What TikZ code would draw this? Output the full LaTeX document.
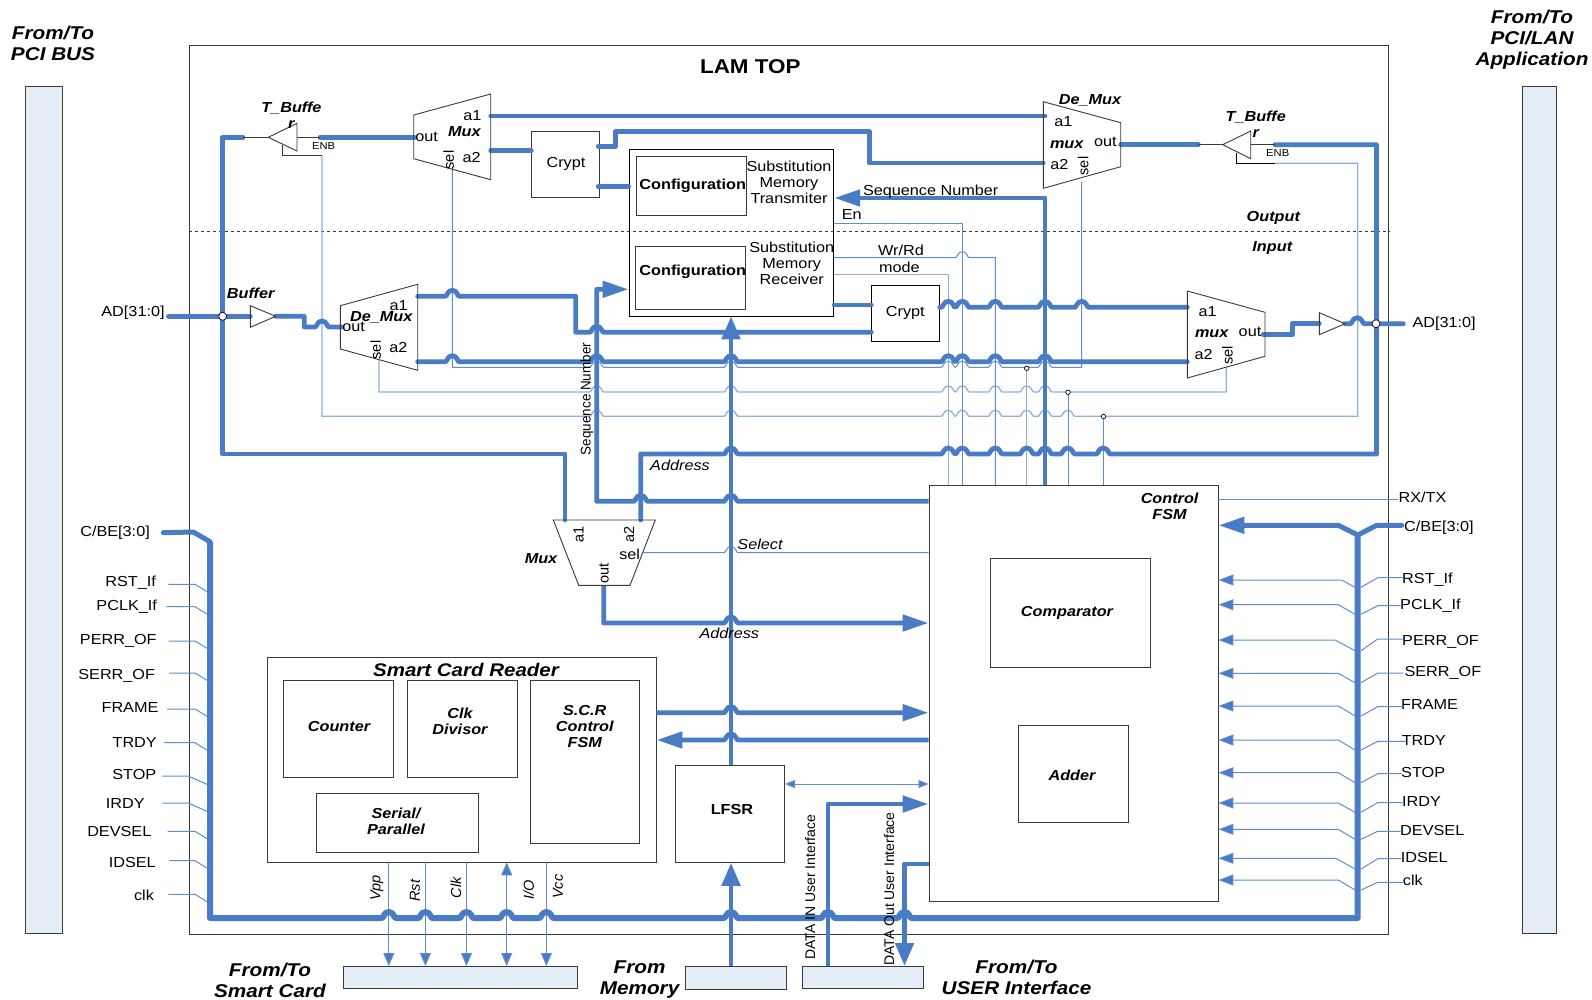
\documentclass[tikz,border=0pt]{standalone}
\usepackage{fontspec}
\usetikzlibrary{arrows.meta}
\setmainfont[FakeStretch=1.12]{Liberation Sans}
\newfontfamily\plainf{Liberation Sans}
\newfontfamily\narrowf[FakeStretch=0.96]{Liberation Sans}
\definecolor{wire}{HTML}{4A7CC6}
\definecolor{wthin}{HTML}{5F8DD0}
\definecolor{wlight}{HTML}{8FB0DF}
\definecolor{barfill}{HTML}{E5EDF7}
\definecolor{outl}{HTML}{3A3A3A}
\newcommand\hp[2]{-- (#1-7,#2) .. controls (#1-5,#2) and (#1-5,#2-6) .. (#1,#2-6) .. controls (#1+5,#2-6) and (#1+5,#2) .. (#1+7,#2)}
\newcommand\bx[7][]{\pgfmathsetmacro\bw{#5-#3}\pgfmathsetmacro\bh{#6-#4}\pgfmathsetmacro\cx{(#3+#5)/2}\pgfmathsetmacro\cy{(#4+#6)/2}%
  \node[boxx,#1,minimum width=\bw pt,minimum height=\bh pt] (#2) at (\cx,\cy) {#7};}
\newcommand\tx[5][]{\node[lbl,#1] (#2) at (#3,#4) {#5};}
\tikzset{
  boxx/.style={draw=outl,line width=.9pt,inner sep=0pt,align=center,font=\fontsize{14.5}{16}\selectfont},
  barr/.style={boxx,draw=outl,fill=barfill,line width=1pt},
  lbl/.style={inner sep=0pt,align=center,font=\fontsize{14.5}{16}\selectfont},
  bi/.style={lbl,font=\fontsize{14.5}{16}\selectfont\bfseries\itshape},
  big/.style={lbl,font=\fontsize{18.5}{21}\selectfont\bfseries\itshape},
  rot/.style={lbl,rotate=90,font=\fontsize{14.5}{16}\selectfont\plainf},
  roti/.style={lbl,rotate=90,font=\fontsize{14.5}{16}\selectfont\plainf\itshape},
  heavy/.style={draw=wire,line width=4.8pt,line join=round,line cap=round},
  bus/.style={draw=wire,line width=6pt,line join=round},
  thin wire/.style={draw=wthin,line width=1pt,line join=miter},
  light wire/.style={draw=wlight,line width=1.3pt,line join=miter},
  gate/.style={draw=outl,line width=.9pt},
  dot/.style={circle,draw=black,fill=white,inner sep=0pt,minimum size=4.5pt,line width=.7pt},
  bigdot/.style={circle,draw=black,fill=white,inner sep=0pt,minimum size=8pt,line width=.7pt},
  hd/.style={-{Triangle[length=26pt,width=16pt,fill=wire]}},
  hdr/.style={{Triangle[length=26pt,width=16pt,fill=wire]}-},
  hdup/.style={-{Triangle[length=23pt,width=18pt,fill=wire]}},
  td/.style={-{Triangle[length=13pt,width=11pt,fill=wire]}},
}
\begin{document}
\begin{tikzpicture}[x=1pt,y=-1pt]
\useasboundingbox (0,0) rectangle (1592,999);
\fill[white] (0,0) rectangle (1592,999);
% frames
\bx{lam}{189.3}{45.7}{1388.7}{934}{}
\bx[barr]{pcibar}{25.3}{86.3}{62}{933}{}
\bx[barr]{appbar}{1522.3}{86.7}{1556}{933}{}
\bx[barr]{scbar}{343.3}{966}{577.2}{988.3}{}
\bx[barr]{membar}{685.3}{966}{786.2}{989.3}{}
\bx[barr]{userbar}{802.2}{966}{923.6}{988.3}{}
\draw[dashed,line width=.9pt,draw=outl] (lam.west |- 0,231.7) coordinate (dashL) -- (lam.east |- 0,231.7) coordinate (dashR);
% boxes
\bx{crypta}{531.7}{131.7}{599.3}{197}{}
\bx[draw=black]{subm}{629}{149.7}{833.7}{316.3}{}
\bx{confa}{636.7}{156.3}{746.3}{215}{}
\bx{confb}{635.7}{246.3}{745}{309.7}{}
\bx[draw=black]{cryptb}{871.7}{285}{939.3}{341.3}{}
\bx{scr}{267}{657.3}{656}{862}{}
\bx{counter}{283.3}{680.3}{393}{777.7}{}
\bx{clkdiv}{407}{680.3}{517.8}{777.7}{}
\bx{scrfsm}{530}{680.3}{639.6}{843.7}{}
\bx{serial}{316.8}{793}{478}{852}{}
\bx{lfsr}{675}{765.5}{784.6}{862.3}{}
\bx{fsm}{929}{485}{1218}{901.7}{}
\bx{comp}{990}{558.4}{1150.3}{667}{}
\bx{adder}{1018.4}{725}{1128}{822.4}{}
% thin control wires
\draw[light wire] (322,155.7) -- (322,416.3) \hp{596.7}{416.3} \hp{731}{416.3} \hp{948.3}{416.3} \hp{962.3}{416.3} \hp{995.3}{416.3} \hp{1026.7}{416.3} \hp{1045}{416.3} \hp{1067.7}{416.3} -- (1357.7,416.3) -- (1357.7,163.3) -- (1275,163.3);
\draw[gate] (282.7,145) -- (282.7,155.7) -- (322,155.7);
\draw[gate,draw=black] (1275,163.3) -- (1236.7,163.3) -- (1236.7,152.7);
\draw[thin wire] (452.3,168) -- (452.3,367.3) \hp{596.7}{367.3} \hp{731}{367.3} \hp{948.3}{367.3} \hp{962.3}{367.3} \hp{995.3}{367.3} \hp{1045}{367.3} -- (1081.7,367.3) -- (1081.7,182);
\draw[light wire] (379,360) -- (379,392) \hp{596.7}{392} \hp{731}{392} \hp{948.3}{392} \hp{962.3}{392} \hp{995.3}{392} \hp{1026.7}{392} \hp{1045}{392} -- (1226.3,392) -- (1226.3,367);
\node[dot] (dota) at (1026.7,368.3) {};
\node[dot] (dotb) at (1068,392.3) {};
\node[dot] (dotc) at (1103.5,416.5) {};
\draw[light wire] (dota) -- (dota |- fsm.north);
\draw[thin wire] (dotb) -- (dotb |- fsm.north);
\draw[thin wire] (dotc) -- (dotc |- fsm.north);
\draw[thin wire] (subm.east |- 0,223.3) -- (962.3,223.3) -- (962.3,485);
\draw[thin wire] (subm.east |- 0,257.7) \hp{962.3}{257.7} -- (995.3,257.7) -- (995.3,485);
\draw[light wire] (subm.east |- 0,274.7) -- (948.3,274.7) -- (948.3,485);
\draw[thin wire] (fsm.east |- 0,499) -- (1398,499);
\draw[thin wire] (643.3,552.7) \hp{731}{552.7} -- (fsm.west |- 0,552.7);
\draw[thin wire,{Triangle[length=10pt,width=8pt,fill=wire]}-{Triangle[length=10pt,width=8pt,fill=wire]}] (lfsr.east |- 0,784) -- (fsm.west |- 0,784);
% left signals
\foreach \nm/\yy/\st/\kn/\lx/\ly/\tt in {
 a/584.3/168.3/195/130.7/583/RST\_If, b/606.7/166.3/195/126.7/607/PCLK\_If, c/641/168.7/195/118.3/640.5/PERR\_OF,
 d/673/169/195/116.7/675.5/SERR\_OF, e/709/167/195/130/707/FRAME, f/742.7/164/195/134.7/742/TRDY,
 g/776/162.3/188.3/134.3/774/STOP, h/803/162.3/188.3/125.3/803/IRDY, i/831.3/167.7/195/119.3/831/DEVSEL,
 j/860.7/169.7/195/132.3/862.7/IDSEL, k/894.3/168.3/195/144/895/clk}{
  \tx{sl\nm}{\lx}{\ly}{\tt}
  \draw[thin wire] (\st,\yy) -- (\kn,\yy) -- (213,\yy+11);
}
% right signals
\foreach \nm/\ly/\kx/\by/\ry/\rx/\tx/\ty/\tt in {
 a/580/1341.7/587.3/577.7/1402.7/1402/580/RST\_If, b/604.7/1338.3/614.3/605.7/1400.7/1400/606/PCLK\_If,
 c/640/1335/650.7/639/1402.7/1402/642.3/PERR\_OF, d/673.3/1338.3/682.7/673/1403.3/1404.3/673.3/SERR\_OF,
 e/706/1338.3/716/706.7/1403.3/1401/704.3/FRAME, f/740/1338.3/750/741.3/1406.7/1401.6/740/TRDY,
 g/772.7/1338.3/782.7/773.7/1401.7/1401/772/STOP, h/803/1338.3/812.3/802.7/1402.7/1402/801.3/IRDY,
 i/829.3/1338.3/839.3/831.3/1400.7/1400/830.3/DEVSEL, j/858.3/1335.7/869/858.7/1401.3/1400.6/857.3/IDSEL,
 k/880/1338.3/890/882.3/1402.7/1402.7/880.7/clk}{
  \node[lbl,anchor=west] (sr\nm) at (\tx,\ty) {\tt};
  \draw[thin wire,{Triangle[length=15pt,width=11pt,fill=wire]}-] (fsm.east |- 0,\ly) -- (\kx,\ly) -- (1355,\by);
  \draw[thin wire] (1361,\by) -- (1377.7,\ry) -- (\rx,\ry);
}
% thin bus taps to smart card
\foreach \nm/\xx in {a/388.8,b/425.4,c/466.5,e/546.4}{
  \coordinate (tp\nm) at (\xx,862.3);
  \draw[thin wire] (tp\nm) -- (\xx,910);
  \draw[thin wire,td] (\xx,910) -- (\xx,966);
}
\coordinate (tpd) at (506.7,862.3);
\draw[thin wire,td] (506.7,910) -- (tpd);
\draw[thin wire,td] (506.7,910) -- (506.7,966);
% heavy wires
\coordinate (busTL) at (210,541.7);
\coordinate (busBL) at (210,918);
\coordinate (busBR) at (1357.7,918);
\coordinate (busTR) at (1357.7,535);
\draw[bus] (busTL) -- (busBL) \hp{388.8}{918} \hp{425.4}{918} \hp{466.5}{918} \hp{506.7}{918} \hp{546.4}{918} \hp{731}{918} \hp{828}{918} \hp{904.5}{918} -- (busBR) -- (busTR);
\draw[heavy,line width=5pt] (163.3,532.7) -- (193.3,532) -- (busTL);
\draw[heavy,line width=5pt] (1401.7,525.3) -- (1376.7,525.3) -- (busTR);
\draw[heavy,line width=5pt,hd,line cap=butt] (busTR) -- (1338.3,525.3) -- (fsm.east |- 0,525.3);
% input / output top half
\coordinate (nodeL) at (222.7,316.3);
\coordinate (nodeR) at (1376,323.7);
\draw[heavy] (243,137.3) -- (222.3,137.3) -- (222.3,454) -- (565,454) -- (565,520);
\draw[heavy] (168.5,316.3) -- (nodeL) -- (250.3,316.3);
\draw[heavy] (275.7,316.3) -- (304.3,316.3) -- (304.3,327) \hp{322}{327} -- (341.7,327);
\draw[heavy] (320,137.3) -- (414.3,137.3);
\draw[heavy] (490.7,116) -- (1045,116);
\draw[heavy] (490.7,150.7) -- (crypta.west |- 0,150.7);
\draw[heavy] (598.3,146.3) -- (615.7,146.3) -- (615.7,131.7) -- (869.3,131.7) -- (869.3,163) -- (1043.3,163);
\draw[heavy] (598.3,186.7) -- (subm.west |- 0,186.7);
\draw[heavy] (417.7,296.3) \hp{452.3}{296.3} -- (575.7,296.3) -- (575.7,332.3) \hp{596.7}{332.3} -- (cryptb.west |- 0,332.3);
\draw[heavy] (417.7,361.7) \hp{452.3}{361.7} \hp{596.7}{361.7} \hp{731}{361.7} \hp{948.3}{361.7} \hp{962.3}{361.7} \hp{995.3}{361.7} \hp{1045}{361.7} -- (1187.3,361.7);
\draw[heavy] (cryptb.east |- 0,307.3) \hp{948.3}{307.3} \hp{962.3}{307.3} \hp{995.3}{307.3} \hp{1045}{307.3} \hp{1081.7}{307.3} -- (1187.3,307.3);
\draw[heavy] (subm.east |- 0,305) -- (cryptb.west |- 0,305);
\draw[heavy] (1263.3,334.7) -- (1292.7,334.7) -- (1292.7,323.7) -- (1319.3,323.7);
\draw[heavy] (1345,323.7) \hp{1357.3}{323.7} -- (nodeR) -- (1403.3,323.7);
\draw[heavy] (1120.7,144.7) -- (1198.3,144.7);
\draw[heavy] (640.7,520) -- (640.7,454) \hp{731}{454} \hp{948.3}{454} \hp{962.3}{454} \hp{995.3}{454} \hp{1026.7}{454} \hp{1045}{454} \hp{1067.7}{454} \hp{1103.3}{454} -- (1376.5,454) -- (1376.5,144.7) -- (1275,144.7);
% sequence number
\draw[heavy,hd,line cap=butt] (1045,485) -- (1045,198) -- (subm.east |- 0,198);
\draw[heavy,hdr,line cap=butt] (subm.west |- 0,289.3) -- (596.7,289.3) -- (596.7,501.3) \hp{640.7}{501.3} \hp{731}{501.3} -- (fsm.west |- 0,501.3);
\draw[heavy,hd,line cap=butt] (603.7,585.3) -- (603.7,623) \hp{731}{623} -- (fsm.west |- 0,623);
\draw[heavy,hd,line cap=butt] (scr.east |- 0,712.7) \hp{731}{712.7} -- (fsm.west |- 0,712.7);
\draw[heavy,hdr,line cap=butt] (scr.east |- 0,740) \hp{731}{740} -- (fsm.west |- 0,740);
\draw[heavy,hdup,line cap=butt] (lfsr.north -| 731,0) -- (731,316.3);
\draw[heavy,hdup,line cap=butt] (membar.north -| 731,0) -- (lfsr.south -| 731,0);
\draw[heavy,hd,line cap=butt] (828,966) -- (828,804) -- (fsm.west |- 0,804);
\draw[heavy,hdup,line cap=butt] (fsm.west |- 0,864) -- (904.5,864) -- (904.5,966);
% gates
\draw[gate,fill=white] (268.3,137.3) -- (297,123.3) -- (297,151) -- cycle;
\draw[gate] (243,137.3) -- (268.3,137.3) (297,137.3) -- (320,137.3);
\draw[gate,fill=white] (1222.7,144.7) -- (1250.7,131) -- (1250.7,158.7) -- cycle;
\draw[gate] (1198.3,144.7) -- (1222.7,144.7) (1250.7,144.7) -- (1275,144.7);
\draw[gate] (250.3,305.7) -- (250.3,327.3) -- (275.7,316.3) -- cycle;
\draw[gate] (1319.3,312.7) -- (1319.3,334.7) -- (1345,323.7) -- cycle;
\draw[gate] (413.7,115) -- (490.7,94) -- (490.7,179.7) -- (413.7,158.7) -- cycle;
\draw[gate] (340.3,305.7) -- (417.7,284.3) -- (417.7,370.3) -- (340.3,349) -- cycle;
\draw[gate] (1043.3,101.7) -- (1120.7,122.7) -- (1120.7,166.7) -- (1043.3,188.3) -- cycle;
\draw[gate] (1187.3,291) -- (1265,312.3) -- (1265,356.3) -- (1187.3,378) -- cycle;
\draw[gate] (553.3,520) -- (655.3,520) -- (630,585.3) -- (578.7,585.3) -- cycle;
\node[bigdot] (ndL) at (nodeL) {};
\node[bigdot] (ndR) at (nodeR) {};
% labels
\tx[big]{t1}{53}{43}{From/To\\PCI BUS}
\tx[big]{t2}{1532}{39.5}{From/To\\PCI/LAN\\Application}
\tx[lbl,font=\fontsize{20}{22}\selectfont\bfseries]{t3}{750.3}{67}{LAM TOP}
\tx[bi]{t4}{291.4}{115.3}{T\_Buffe\\r}
\tx[bi]{t5}{1255.7}{124.3}{T\_Buffe\\r}
\tx[font=\fontsize{10}{12}\selectfont]{t6}{323.7}{145.7}{ENB}
\tx[font=\fontsize{10}{12}\selectfont]{t7}{1277.7}{153.3}{ENB}
\tx{cta}{566}{164.3}{Crypt}
\tx{ctb}{905.3}{313.3}{Crypt}
\tx{m1}{426.7}{136.7}{out}
\tx{m2}{472.3}{115.3}{a1}
\tx[bi]{m3}{464.3}{131.3}{Mux}
\tx{m4}{471.7}{157.3}{a2}
\tx[rot]{m5}{448.7}{160}{sel}
\tx[bi]{b1}{250.7}{293.3}{Buffer}
\tx{d1}{398.7}{305.3}{a1}
\tx[bi]{d2}{381.3}{317.7}{De\_Mux}
\tx{d3}{353.7}{326.7}{out}
\tx{d4}{398.3}{347.3}{a2}
\tx[rot]{d5}{375.7}{350}{sel}
\tx[font=\fontsize{14.5}{16}\selectfont\bfseries]{c1}{692.7}{185.8}{Configuration}
\tx[font=\fontsize{14.5}{16}\selectfont\bfseries]{c2}{692.7}{271.5}{Configuration}
\tx{s1}{789}{182.3}{Substitution\\Memory\\Transmiter}
\tx{s2}{791.7}{263}{Substitution\\Memory\\Receiver}
\tx{s3}{930.7}{191.3}{Sequence Number}
\tx{s4}{851.7}{214.3}{En}
\tx{s5}{901}{250.3}{Wr/Rd}
\tx{s6}{899.3}{267.7}{mode}
\tx[bi]{e1}{1090}{100.3}{De\_Mux}
\tx{e2}{1063.3}{121.3}{a1}
\tx[bi]{e3}{1066.7}{144.3}{mux}
\tx{e4}{1105.3}{141.7}{out}
\tx{e5}{1059.3}{165}{a2}
\tx[rot]{e6}{1083.3}{166}{sel}
\tx[bi]{o1}{1273.3}{218}{Output}
\tx[bi]{o2}{1272.3}{248.3}{Input}
\tx{r1}{1207.7}{312}{a1}
\tx[bi]{r2}{1211.7}{333.3}{mux}
\tx{r3}{1250}{331.7}{out}
\tx{r4}{1203.7}{354.3}{a2}
\tx[rot]{r5}{1227.3}{355.3}{sel}
\tx{ad1}{133}{312.7}{AD[31:0]}
\node[lbl,anchor=west] (ad2) at (1412.3,323.3) {AD[31:0]};
\tx[rot,font=\fontsize{14}{16}\selectfont\narrowf]{sq}{587}{399}{Sequence Number}
\tx[font=\fontsize{14.5}{16}\selectfont\itshape]{ad3}{680}{465}{Address}
\tx[font=\fontsize{14.5}{16}\selectfont\itshape]{ad4}{729.3}{633.3}{Address}
\tx[font=\fontsize{14.5}{16}\selectfont\itshape]{se}{760}{544.3}{Select}
\tx[bi]{x1}{541}{558.3}{Mux}
\tx[rot]{x2}{578.7}{534.7}{a1}
\tx[rot]{x3}{629}{534.7}{a2}
\tx{x4}{629.7}{554.7}{sel}
\tx[rot]{x5}{604}{573.3}{out}
\tx[lbl,font=\fontsize{18.3}{22}\selectfont\bfseries\itshape]{sc}{466}{670}{Smart Card Reader}
\tx[bi]{sc1}{339}{726}{Counter}
\tx[bi]{sc2}{460}{721.5}{Clk\\Divisor}
\tx[bi]{sc3}{584.8}{726}{S.C.R\\Control\\FSM}
\tx[bi]{sc4}{396}{821.3}{Serial/\\Parallel}
\tx[font=\fontsize{14.5}{16}\selectfont\bfseries]{lf}{732}{809}{LFSR}
\tx[bi]{f1}{1169.6}{506.2}{Control\\FSM}
\tx[bi]{f2}{1067}{613}{Comparator}
\tx[bi]{f3}{1072}{775.7}{Adder}
\tx[lbl]{rx}{1422.5}{497}{RX/TX}
\node[lbl,anchor=east] (cbe1) at (150,532.7) {C/BE[3:0]};
\node[lbl,anchor=west] (cbe2) at (1404,527.3) {C/BE[3:0]};
\tx[roti]{v1}{376.8}{888}{Vpp}
\tx[roti]{v2}{415}{890.7}{Rst}
\tx[roti]{v3}{456}{887.7}{Clk}
\tx[roti]{v4}{528.6}{890}{I/O}
\tx[roti]{v5}{558}{886.7}{Vcc}
\tx[rot,font=\fontsize{14}{16}\selectfont\plainf]{u1}{810}{887}{DATA IN User Interface}
\tx[rot,font=\fontsize{14}{16}\selectfont\plainf]{u2}{889}{889}{DATA Out User Interface}
\tx[big]{g1}{270}{980}{From/To\\Smart Card}
\tx[big]{g2}{639.6}{980}{From\\Memory}
\tx[big]{g3}{1016.5}{977.5}{From/To\\USER Interface}
\end{tikzpicture}
\end{document}
